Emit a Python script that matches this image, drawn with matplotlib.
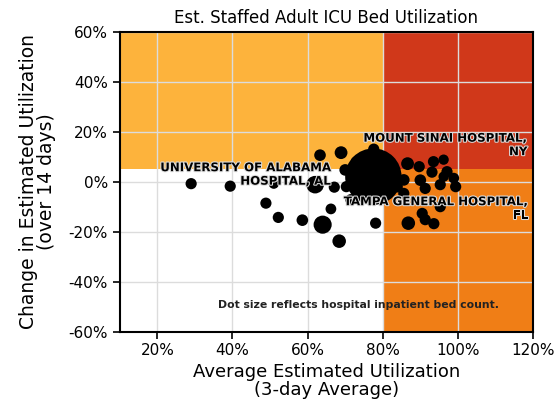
import matplotlib
matplotlib.use('Agg')
import matplotlib.pyplot as plt
import matplotlib.patheffects as pe
from matplotlib.ticker import PercentFormatter

plt.rcParams['axes.unicode_minus'] = False

# average utilization (3-day), change over 14 days, dot size (bed count proxy)
utilizacao = [0.29, 0.394, 0.489, 0.51, 0.522, 0.586, 0.633, 0.689, 0.62, 0.64,
              0.662, 0.684, 0.671, 0.70, 0.703, 0.715, 0.776, 0.775, 0.781, 0.838,
              0.856, 0.856, 0.866, 0.868, 0.897, 0.935, 0.962, 0.971, 0.931, 0.989,
              0.994, 0.90, 0.913, 0.953, 0.962, 0.953, 0.905, 0.913, 0.936, 0.82,
              0.73]
variacao = [-0.008, -0.018, -0.086, -0.008, -0.143, -0.154, 0.106, 0.116, -0.012, -0.172,
            -0.109, -0.238, -0.022, 0.047, -0.02, -0.072, 0.13, 0.02, -0.166, -0.02,
            0.007, -0.047, 0.072, -0.166, 0.06, 0.08, 0.088, 0.04, 0.038, 0.014,
            -0.02, 0.006, -0.027, -0.012, 0.02, -0.1, -0.127, -0.152, -0.168, 0.06,
            0.08]
tamanho = [65, 65, 65, 55, 65, 70, 70, 85, 160, 170,
           60, 95, 65, 70, 65, 65, 65, 1650, 65, 70,
           70, 65, 85, 95, 65, 65, 55, 65, 65, 60,
           65, 70, 65, 65, 55, 65, 65, 65, 65, 65,
           65]

rotulos = ['UNIVERSITY OF ALABAMA\nHOSPITAL, AL',
           'MOUNT SINAI HOSPITAL,\nNY',
           'TAMPA GENERAL HOSPITAL,\nFL']
rotulos_x = [0.662, 1.185, 1.187]
rotulos_y = [0.029, 0.147, -0.107]

LIMITE_UTIL = 0.8
LIMITE_VAR = 0.05
XLIM = (0.1, 1.2)
YLIM = (-0.6, 0.6)

COR_AMARELO = '#fdb33c'
COR_VERMELHO = '#d0381a'
COR_LARANJA = '#f07e16'

fig = plt.figure(figsize=(5.57, 4.11), dpi=100)
ax = fig.add_axes([0.215, 0.193, 0.742, 0.73])

ax.fill_between([XLIM[0], LIMITE_UTIL], LIMITE_VAR, YLIM[1], color=COR_AMARELO, lw=0, zorder=0)
ax.fill_between([LIMITE_UTIL, XLIM[1]], LIMITE_VAR, YLIM[1], color=COR_VERMELHO, lw=0, zorder=0)
ax.fill_between([LIMITE_UTIL, XLIM[1]], YLIM[0], LIMITE_VAR, color=COR_LARANJA, lw=0, zorder=0)

ax.grid(True, color='#dcdcdc', lw=1, zorder=1)
ax.set_axisbelow(True)

ax.scatter(utilizacao, variacao, s=tamanho, c='black', lw=0, zorder=3)

for txt, x, y in zip(rotulos, rotulos_x, rotulos_y):
    ax.text(x, y, txt, ha='right', va='center', multialignment='right',
            fontsize=8.5, fontweight='bold', color='black', zorder=4, linespacing=1.05,
            path_effects=[pe.withStroke(linewidth=1.5, foreground='#dddddd')])

ax.text(0.735, -0.493, 'Dot size reflects hospital inpatient bed count.',
        ha='center', va='center', fontsize=7.8, fontweight='bold', color='#222222', zorder=4)

ax.set_xlim(*XLIM)
ax.set_ylim(*YLIM)
ax.set_xticks([0.2, 0.4, 0.6, 0.8, 1.0, 1.2])
ax.set_yticks([-0.6, -0.4, -0.2, 0.0, 0.2, 0.4, 0.6])
ax.xaxis.set_major_formatter(PercentFormatter(1.0, decimals=0))
ax.yaxis.set_major_formatter(PercentFormatter(1.0, decimals=0))
ax.tick_params(labelsize=11, length=5, width=1.2)
for sp in ax.spines.values():
    sp.set_linewidth(1.5)

ax.set_title('Est. Staffed Adult ICU Bed Utilization', fontsize=12, pad=6)
ax.set_xlabel('Average Estimated Utilization\n(3-day Average)', fontsize=13,
              labelpad=3, linespacing=1.0)
ax.set_ylabel('Change in Estimated Utilization\n(over 14 days)', fontsize=13.5,
              labelpad=9, linespacing=0.95)

plt.savefig('out.png', dpi=100)
plt.close()
